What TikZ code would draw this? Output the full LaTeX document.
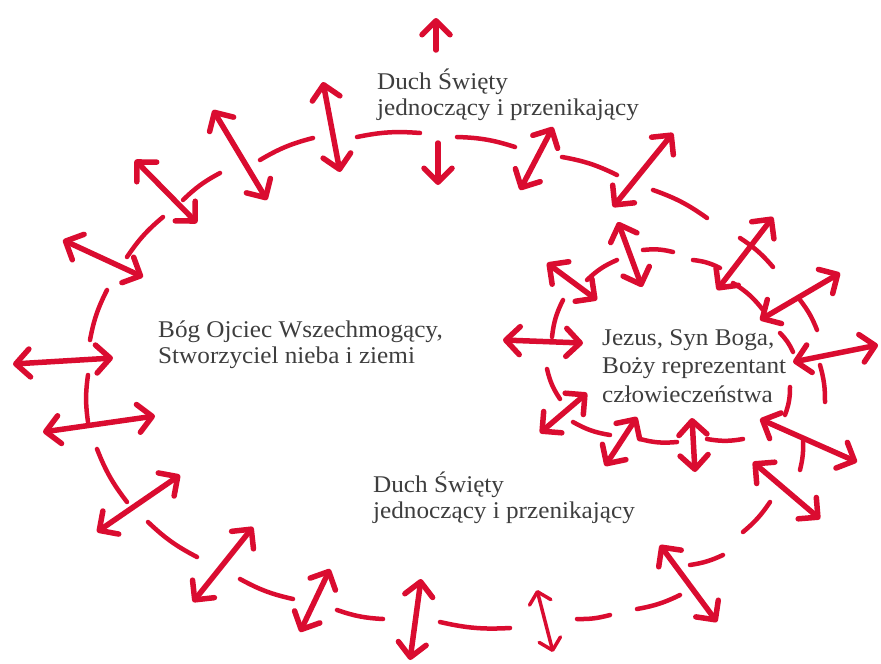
\documentclass[tikz,border=0pt]{standalone}
\usepackage{fontspec}
\setmainfont{Liberation Serif}[FakeStretch=1.05]
\usetikzlibrary{arrows.meta}
\definecolor{pen}{RGB}{218,12,48}
\definecolor{ink}{RGB}{62,62,62}
\begin{document}
\begin{tikzpicture}[x=1pt,y=-1pt,
  barb/.tip={Straight Barb[length=14pt,width=28pt,round]},
  dashseg/.style={pen, line width=4.5pt, line cap=round},
  dbl/.style={pen, line width=5.5pt, line cap=round, barb-barb},
  thindbl/.style={pen, line width=3.5pt, line cap=round, {Straight Barb[length=11pt,width=22pt,round]}-{Straight Barb[length=11pt,width=22pt,round]}},
  sgl/.style={pen, line width=5.5pt, line cap=round, -barb},
  lbl/.style={ink, font=\fontsize{24}{26}\selectfont, align=left, inner sep=0pt, anchor=base west}]
\useasboundingbox (0,0) rectangle (881,664);

% ---------------- big dashed ellipse (clockwise on screen)
\foreach \a/\b in {
  {357,137}/{420,133}, {457,137}/{515,147}, {562,157}/{617,175},
  {653,190}/{707,218}, {740,238}/{773,267}, {800,300}/{817,330},
  {820,365}/{825,402}, {803,440}/{800,470}, {770,502}/{743,532},
  {723,555}/{690,565}, {680,595}/{637,609}, {610,615}/{577,619},
  {510,628}/{440,622}, {383,619}/{337,610}, {293,599}/{240,579},
  {197,557}/{148,522}, {127,502}/{97,449}, {88,422}/{88,375},
  {90,340}/{107,290}, {127,257}/{163,217}, {183,200}/{220,173},
  {260,160}/{313,138}}
  \draw[dashseg] (\a) to[bend left=8] (\b);

% ---------------- small dashed ellipse (clockwise on screen)
\foreach \a/\b in {
  {643,250}/{673,252}, {693,260}/{720,268}, {733,283}/{763,310},
  {780,333}/{793,352}, {790,387}/{785,415}, {743,439}/{707,439},
  {677,442}/{640,439}, {610,435}/{573,422}, {560,399}/{547,369},
  {552,337}/{563,300}, {587,280}/{617,260}}
  \draw[dashseg] (\a) to[bend left=10] (\b);

% ---------------- arrows across the big ellipse
\draw[sgl] (436,50) -- (436,18);
\draw[sgl] (438,143) -- (438,185);
\foreach \a/\b in {
  {323,82}/{340,172}, {213,110}/{267,200}, {135,160}/{197,223},
  {63,240}/{143,277}, {13,364}/{113,358}, {43,432}/{155,416},
  {97,532}/{180,475}, {193,602}/{253,527}, {300,632}/{330,569},
  {410,660}/{421,579}, {660,545}/{717,622},
  {753,462}/{820,519}, {760,419}/{857,462}, {793,362}/{878,345},
  {760,320}/{840,273}, {717,290}/{773,217}, {613,207}/{673,133},
  {520,190}/{553,127}}
  \draw[dbl] (\a) -- (\b);
\draw[thindbl] (553,652) -- (537,590);

% ---------------- arrows across the small ellipse
\foreach \a/\b in {
  {618,222}/{642,287}, {547,263}/{597,300}, {503,340}/{583,343},
  {540,433}/{587,393}, {605,466}/{637,417}, {695,472}/{692,418}}
  \draw[dbl] (\a) -- (\b);

% ---------------- texts (anchored at the baseline of the last line)
\node[lbl] (spirittop) at (377,115) {Duch Święty\\jednoczący i przenikający};
\node[lbl] (father) at (158,363) {Bóg Ojciec Wszechmogący,\\Stworzyciel nieba i ziemi};
\node[lbl, font=\fontsize{24}{28.5}\selectfont] (son) at (602,402) {Jezus, Syn Boga,\\Boży reprezentant\\człowieczeństwa};
\node[lbl] (spiritbottom) at (373,518) {Duch Święty\\jednoczący i przenikający};
\end{tikzpicture}
\end{document}
